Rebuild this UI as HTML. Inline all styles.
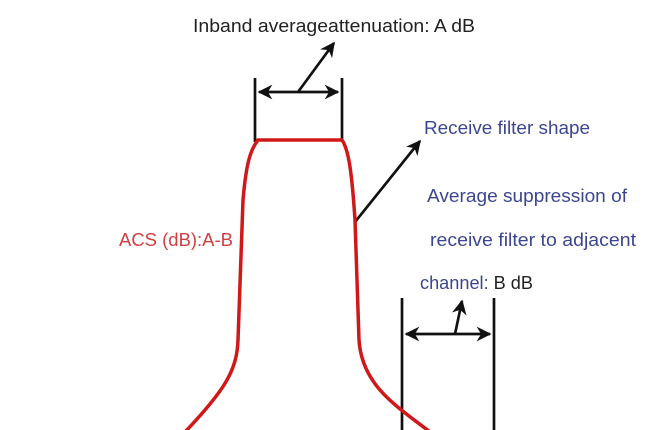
<!DOCTYPE html>
<html><head><meta charset="utf-8"><style>
html,body{margin:0;padding:0;background:#fff;}
svg{display:block;}
text{font-family:"Liberation Sans",Arial,sans-serif;font-size:18px;}
</style></head><body>
<svg width="672" height="430" viewBox="0 0 672 430" xmlns="http://www.w3.org/2000/svg">
<defs>
<marker id="a" viewBox="0 0 10 10" refX="9" refY="5" markerWidth="5.5" markerHeight="5.5" orient="auto-start-reverse">
<path d="M0,0 L10,5 L0,10 L3,5 z" fill="#111"/></marker>
</defs>
<rect width="672" height="430" fill="#fff"/>
<text x="193" y="32" fill="#222" textLength="282" lengthAdjust="spacingAndGlyphs">Inband averageattenuation:  A dB</text>
<g stroke="#111" stroke-width="2.7" fill="none">
<line x1="255" y1="78" x2="255" y2="142"/>
<line x1="342" y1="78" x2="342" y2="142"/>
<line x1="259" y1="92" x2="338" y2="92" marker-start="url(#a)" marker-end="url(#a)"/>
<line x1="298" y1="92" x2="334" y2="43" marker-end="url(#a)"/>
<line x1="355" y1="222" x2="420" y2="141" marker-end="url(#a)"/>
<line x1="402" y1="298" x2="402" y2="430"/>
<line x1="494" y1="298" x2="494" y2="430"/>
<line x1="406" y1="334" x2="490" y2="334" marker-start="url(#a)" marker-end="url(#a)"/>
<line x1="455" y1="334" x2="462" y2="301" marker-end="url(#a)"/>
</g>
<path d="M185,432 C225,390 237,370 238,340 L243,200 C246,165 250,150 258,140 L342,140 C349,150 352,175 355,220 L359,340 C362,385 395,405 430,432" stroke="#d01818" stroke-width="3.5" fill="none"/>
<text x="424" y="134" fill="#3c4690" textLength="166" lengthAdjust="spacingAndGlyphs">Receive filter shape</text>
<text x="427" y="202" fill="#3c4690" textLength="200" lengthAdjust="spacingAndGlyphs">Average suppression of</text>
<text x="430" y="246" fill="#3c4690" textLength="206" lengthAdjust="spacingAndGlyphs">receive filter to adjacent</text>
<text x="420" y="289" fill="#3c4690" textLength="113" lengthAdjust="spacingAndGlyphs">channel: <tspan fill="#222">B dB</tspan></text>
<text x="119" y="246" fill="#d04040" textLength="114" lengthAdjust="spacingAndGlyphs">ACS (dB):A-B</text>
</svg>
</body></html>
